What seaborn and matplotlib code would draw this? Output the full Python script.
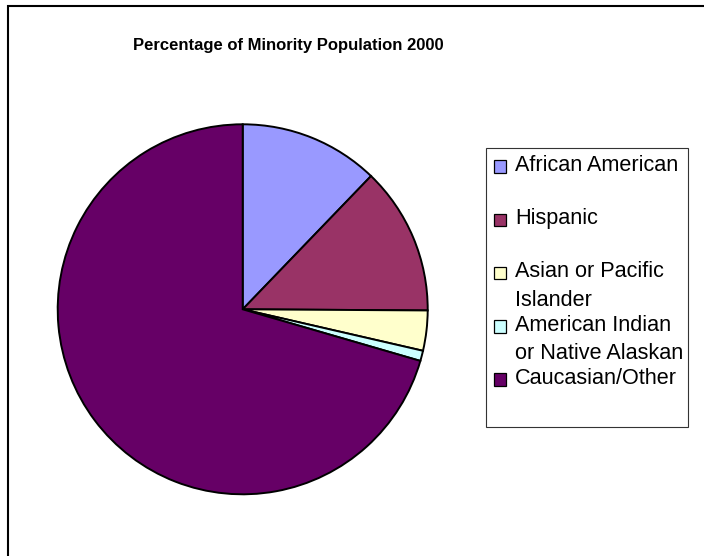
import matplotlib
matplotlib.use("Agg")
import matplotlib.pyplot as plt
import seaborn as sns
from matplotlib.patches import Rectangle

# ---- data ----
categories = ["African American", "Hispanic", "Asian or Pacific\nIslander",
              "American Indian\nor Native Alaskan", "Caucasian/Other"]
values = [12.2, 12.9, 3.5, 0.9, 70.5]
colors = ["#9999FF", "#993366", "#FFFFCC", "#CCFFFF", "#660066"]
title = "Percentage of Minority Population 2000"

sns.set_theme(style="white")
plt.rcParams['font.family'] = ['Liberation Sans', 'DejaVu Sans']

W, H = 704, 556
fig = plt.figure(figsize=(W / 100, H / 100), dpi=100)
fig.patch.set_facecolor('white')

def fx(px):
    return px / W

def fy(py):
    return 1 - py / H

# pie
cx, cy, r = 242.7, 309.3, 185
ax = fig.add_axes([fx(cx - r), fy(cy + r), 2 * r / W, 2 * r / H])
palette = sns.color_palette(colors)
wedges, _ = ax.pie(values, colors=palette, startangle=90, counterclock=False,
                   radius=1, wedgeprops=dict(edgecolor='black', linewidth=1.4))
for w in wedges:
    w.set_clip_on(False)
ax.set_xlim(-1, 1)
ax.set_ylim(-1, 1)
ax.set_aspect('equal')
ax.axis('off')

# title
fig.text(fx(288.5), fy(50), title, ha='center', va='baseline',
         fontsize=12, fontweight='bold', color='black')

# outer chart border (top & left visible)
fig.patches.append(Rectangle((fx(7.7), -0.1), 1.2, fy(5.7) + 0.1,
                             transform=fig.transFigure, fill=False,
                             edgecolor='black', linewidth=1.5))

# legend box
fig.patches.append(Rectangle((fx(486), fy(427)), (688 - 486) / W, (427 - 148) / H,
                             transform=fig.transFigure, fill=False,
                             edgecolor='#333333', linewidth=0.8))

step = 53.2
sq = 12.5
for i, (lab, col) in enumerate(zip(categories, palette)):
    ccy = 166.7 + step * i
    fig.patches.append(Rectangle((fx(493.5), fy(ccy + sq / 2)), sq / W, sq / H,
                                 transform=fig.transFigure, facecolor=col,
                                 edgecolor='black', linewidth=0.9))
    base = 171 + step * i
    for j, line in enumerate(lab.split("\n")):
        fig.text(fx(515), fy(base + 28.5 * j), line, ha='left', va='baseline',
                 fontsize=15.6, color='black')

fig.savefig("out.png", dpi=100)
